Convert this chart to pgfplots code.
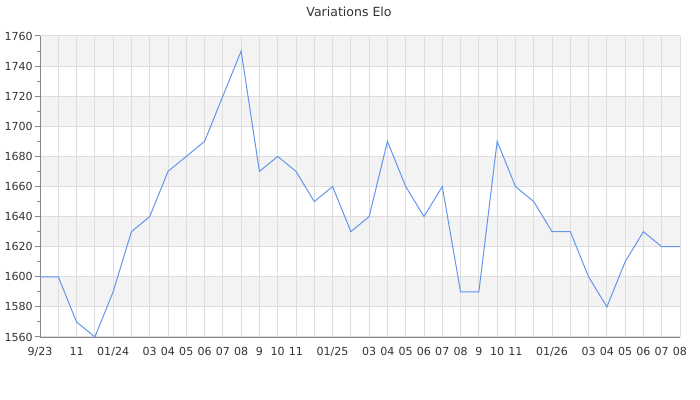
\documentclass[border=0pt]{standalone}
\usepackage{fontspec}
\setmainfont{DejaVu Sans}
\usepackage{pgfplots}
\pgfplotsset{compat=1.18}
\definecolor{band}{HTML}{F3F3F3}
\definecolor{gridc}{HTML}{DDDDDD}
\definecolor{axc}{HTML}{888888}
\definecolor{txt}{HTML}{333333}
\definecolor{elo}{HTML}{6495ED}
\begin{document}
\begin{tikzpicture}
\path (0,0) rectangle (525pt,300pt);
\node[text=txt,font=\fontsize{9.4}{11}\selectfont] at (261.75pt,291pt) {Variations Elo};
\begin{axis}[
  set layers,
  at={(30pt,47.25pt)}, anchor=south west,
  scale only axis, width=480pt, height=225.75pt,
  xmin=0, xmax=35, ymin=1560, ymax=1760,
  axis x line*=bottom, axis y line*=left,
  axis line style={axc,-},
  xtick={0,...,35},
  xticklabels={9/23,,11,,01/24,,03,04,05,06,07,08,9,10,11,,01/25,,03,04,05,06,07,08,9,10,11,,01/26,,03,04,05,06,07,08},
  ytick={1560,1580,...,1760},
  minor ytick={1570,1590,...,1750},
  xmajorgrids, ymajorgrids,
  grid style={gridc,line width=0.75pt},
  minor grid style={draw=none},
  x tick style={draw=none},
  y tick style={axc,line width=0.75pt},
  major tick length=3.75pt, minor tick length=2.25pt,
  tick align=outside,
  ticklabel style={text=txt,font=\fontsize{8.3}{10}\selectfont},
  /pgf/number format/assume math mode=true,
  /pgf/number format/1000 sep={},
  yticklabel style={inner sep=1.5pt},
  xticklabel style={inner sep=2pt, yshift=-1.5pt},
  clip=false,
]
\begin{pgfonlayer}{axis background}
\fill[band] (axis cs:0,1580) rectangle (axis cs:35,1600);
\fill[band] (axis cs:0,1620) rectangle (axis cs:35,1640);
\fill[band] (axis cs:0,1660) rectangle (axis cs:35,1680);
\fill[band] (axis cs:0,1700) rectangle (axis cs:35,1720);
\fill[band] (axis cs:0,1740) rectangle (axis cs:35,1760);
\end{pgfonlayer}
\addplot[elo, line width=0.75pt, mark=none] coordinates {
(0,1600) (1,1600) (2,1570) (3,1560) (4,1590) (5,1630) (6,1640) (7,1670)
(8,1680) (9,1690) (10,1720) (11,1750) (12,1670) (13,1680) (14,1670) (15,1650)
(16,1660) (17,1630) (18,1640) (19,1690) (20,1660) (21,1640) (22,1660) (23,1590)
(24,1590) (25,1690) (26,1660) (27,1650) (28,1630) (29,1630) (30,1600) (31,1580)
(32,1610) (33,1630) (34,1620) (35,1620)
};
\end{axis}
\end{tikzpicture}
\end{document}
